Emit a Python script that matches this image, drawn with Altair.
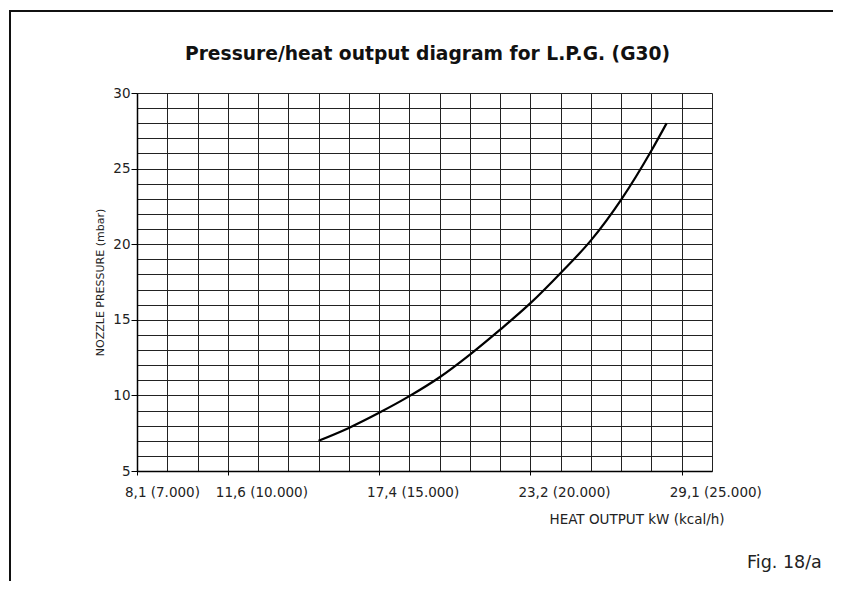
import altair as alt
import pandas as pd

# Data
heat_kcal = [13000, 14000, 15000, 16000, 17000, 18000, 19000, 20000, 21000, 22000, 23000, 24000, 24500]
pressure_mbar = [7.0, 7.85, 8.85, 9.95, 11.2, 12.7, 14.35, 16.1, 18.1, 20.25, 22.95, 26.2, 28.0]

x_tick_values = [7000, 10000, 15000, 20000, 25000]
x_tick_labels = ["8,1 (7.000)", "11,6 (10.000)", "17,4 (15.000)", "23,2 (20.000)", "29,1 (25.000)"]
x_grid_values = list(range(7000, 26001, 1000))
y_grid_values = list(range(5, 31))

df = pd.DataFrame({"kcal": heat_kcal, "mbar": pressure_mbar})
labels_df = pd.DataFrame({"kcal": x_tick_values, "label": x_tick_labels})

FONT = "DejaVu Sans"
W, H = 575, 378

x_tick_test = "indexof([" + ",".join(str(v) for v in x_tick_values) + "], datum.value) >= 0"
x_scale = alt.Scale(domain=[7000, 26000], nice=False, zero=False)
y_scale = alt.Scale(domain=[5, 30], nice=False, zero=False)

x_axis = alt.Axis(
    values=x_grid_values,
    grid=True, gridColor="#222", gridWidth=1, gridOpacity=1,
    domainColor="#000", domainWidth=1.5,
    tickColor="#000", tickSize=4,
    tickOpacity={"condition": {"test": x_tick_test, "value": 1}, "value": 0},
    labels=False,
    title="HEAT OUTPUT kW (kcal/h)", titleFont=FONT, titleFontSize=13.5,
    titleFontWeight="normal", titleColor="#222",
    titleAlign="left", titleBaseline="middle", titleX=412, titleY=48, titleAnchor="start",
)

y_axis = alt.Axis(
    values=y_grid_values,
    grid=True, gridColor="#222", gridWidth=1, gridOpacity=1,
    domainColor="#000", domainWidth=1.5,
    tickColor="#000", tickSize=6,
    tickOpacity={"condition": {"test": "datum.value % 5 == 0", "value": 1}, "value": 0},
    labelExpr="datum.value % 5 == 0 ? datum.label : ''", labelPadding=1,
    labelFont=FONT, labelFontSize=13.5, labelColor="#222",
    title="NOZZLE PRESSURE (mbar)", titleFont=FONT, titleFontSize=11,
    titleFontWeight="normal", titleColor="#222",
    titleAngle=-90, titleAlign="center", titleBaseline="middle", titleX=-37, titleY=H / 2,
)

curve = alt.Chart(df).mark_line(color="#000", strokeWidth=2.2, interpolate="monotone").encode(
    x=alt.X("kcal:Q", scale=x_scale, axis=x_axis),
    y=alt.Y("mbar:Q", scale=y_scale, axis=y_axis),
)

x_labels = alt.Chart(labels_df).mark_text(
    font=FONT, fontSize=13.5, color="#222", align="left", baseline="middle", dx=-12
).encode(x=alt.X("kcal:Q", scale=x_scale, axis=x_axis), y=alt.value(H + 22), text="label:N")

frame_df = pd.DataFrame({"k": [0]})
frame_left = alt.Chart(frame_df).mark_rule(color="#111", strokeWidth=2, clip=False).encode(
    x=alt.value(-127), y=alt.value(-82), y2=alt.value(520)
)
frame_top = alt.Chart(frame_df).mark_rule(color="#111", strokeWidth=2, clip=False).encode(
    x=alt.value(-128), x2=alt.value(720), y=alt.value(-82)
)
title_text = alt.Chart(frame_df).mark_text(
    text="Pressure/heat output diagram for L.P.G. (G30)", font=FONT, fontSize=18.7,
    fontWeight="bold", color="#111", align="center", baseline="alphabetic"
).encode(x=alt.value(W / 2 + 3), y=alt.value(-33))
fig_text = alt.Chart(frame_df).mark_text(
    text="Fig. 18/a", font=FONT, fontSize=17.5, color="#222", align="left", baseline="middle"
).encode(x=alt.value(610), y=alt.value(470))

chart = alt.layer(frame_left, frame_top, curve, x_labels, title_text, fig_text).properties(
    width=W, height=H,
    autosize=alt.AutoSizeParams(type="none"),
    padding={"left": 129, "top": 85, "right": 121, "bottom": 110},
).configure_view(stroke=None).configure(background="white")

chart.save("out.html", embed_options={"renderer": "svg", "actions": False})
